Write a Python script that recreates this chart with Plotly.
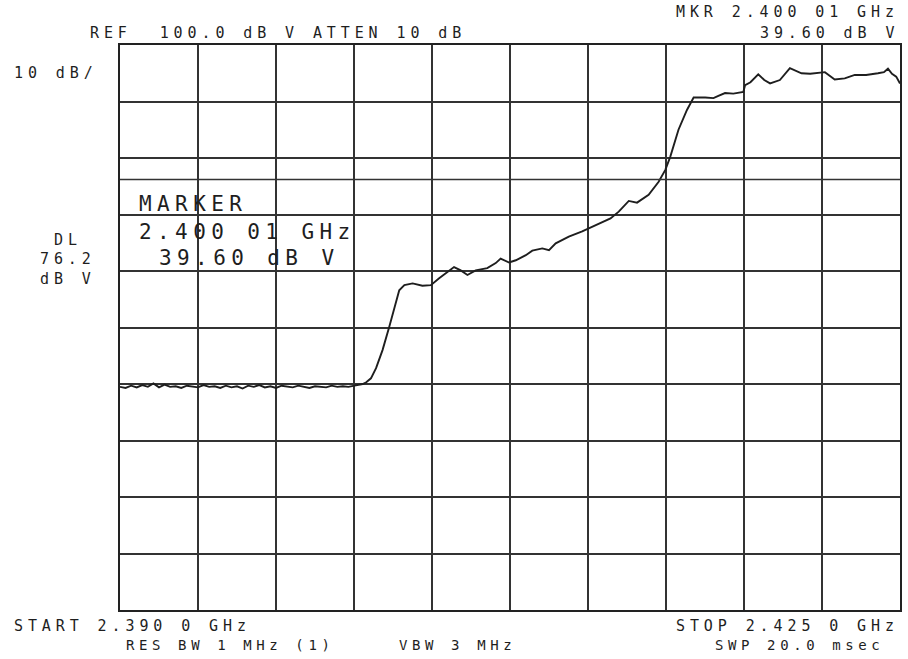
import plotly.graph_objects as go

# Frequency axis (MHz) and trace amplitude (dBuV)
freq_mhz = [
    2390.00, 2390.25, 2390.50, 2390.75, 2391.00, 2391.25, 2391.50, 2391.75,
    2392.00, 2392.25, 2392.50, 2392.75, 2393.00, 2393.25, 2393.50, 2393.75,
    2394.00, 2394.25, 2394.50, 2394.75, 2395.00, 2395.25, 2395.50, 2395.75,
    2396.00, 2396.25, 2396.50, 2396.75, 2397.00, 2397.25, 2397.50, 2397.75,
    2398.00, 2398.25, 2398.50, 2398.75, 2399.00, 2399.25, 2399.50, 2399.75,
    2400.00, 2400.25, 2400.52, 2400.89, 2401.05, 2401.26, 2401.49, 2401.78,
    2402.08, 2402.31, 2402.53, 2402.76, 2403.13, 2403.57, 2403.95, 2404.32,
    2404.62, 2404.99, 2405.29, 2405.59, 2405.96, 2406.48, 2406.86, 2407.08,
    2407.46, 2407.76, 2408.21, 2408.50, 2408.95, 2409.25, 2409.55, 2410.14,
    2410.74, 2411.18, 2411.63, 2412.01, 2412.38, 2412.83, 2413.20, 2413.72,
    2414.17, 2414.47, 2414.69, 2415.06, 2415.44, 2415.74, 2416.26, 2416.63,
    2416.85, 2417.15, 2417.52, 2417.97, 2418.05, 2418.29, 2418.64, 2418.91,
    2419.17, 2419.61, 2420.06, 2420.58, 2420.97, 2421.33, 2421.63, 2422.07,
    2422.52, 2422.97, 2423.48, 2424.01, 2424.28, 2424.46, 2424.64, 2424.83,
    2425.00,
]
level_dbuv = [
    39.5, 39.3, 39.7, 39.4, 39.8, 39.5, 40.1, 39.4,
    39.9, 39.5, 39.6, 39.3, 39.7, 39.5, 39.4, 39.8,
    39.5, 39.6, 39.3, 39.7, 39.4, 39.6, 39.2, 39.7,
    39.5, 39.8, 39.4, 39.6, 39.3, 39.7, 39.5, 39.4,
    39.7, 39.5, 39.3, 39.6, 39.5, 39.4, 39.7, 39.5,
    39.6, 39.5, 39.7, 40.0, 40.3, 41.0, 42.8, 46.0,
    50.1, 53.7, 56.6, 57.5, 57.8, 57.4, 57.5, 58.7,
    59.6, 60.7, 60.1, 59.3, 60.1, 60.5, 61.4, 62.2,
    61.5, 61.9, 62.8, 63.6, 64.0, 63.7, 64.9, 66.1,
    67.0, 67.8, 68.7, 69.3, 70.5, 72.4, 72.1, 73.5,
    75.8, 77.9, 80.2, 85.0, 88.5, 90.7, 90.7, 90.6,
    91.0, 91.5, 91.4, 91.7, 92.9, 93.4, 94.8, 93.8,
    93.2, 93.8, 95.9, 95.0, 94.9, 95.0, 95.2, 93.9,
    94.1, 94.7, 94.7, 95.0, 95.2, 95.8, 94.9, 94.4,
    93.2,
]

START_MHZ = 2390.0
STOP_MHZ = 2425.0
REF_LEVEL = 100.0
DL_LEVEL = 76.2

INK = "#1e1e1e"
FONT = "DejaVu Sans Mono"


def txt(s, spacing):
    return f'<span style="letter-spacing:{spacing}px">{s}</span>'


fig = go.Figure()
fig.add_trace(go.Scatter(
    x=freq_mhz, y=level_dbuv, mode="lines",
    line=dict(color=INK, width=1.9), hoverinfo="skip", showlegend=False,
))

fig.add_shape(type="line", xref="paper", x0=0, x1=1, yref="y",
              y0=DL_LEVEL, y1=DL_LEVEL, line=dict(color="#333", width=1.5))

annotations = [
    # (text, x_px, y_px, xanchor, size, spacing)
    ("REF  100.0 dB V ATTEN 10 dB", 88, 33, "left", 15, 4.9),
    ("MKR 2.400 01 GHz", 903, 12, "right", 15, 4.9),
    ("39.60 dB V", 903, 33, "right", 15, 4.9),
    ("10 dB/", 12, 73, "left", 15, 4.9),
    ("DL", 68, 240, "center", 15, 4.9),
    ("76.2", 68, 259, "center", 15, 4.9),
    ("dB V", 68, 279, "center", 15, 4.9),
    ("MARKER", 137, 204, "left", 21, 5.4),
    ("2.400 01 GHz", 137, 232, "left", 21, 5.4),
    ("39.60 dB V", 157, 258, "left", 21, 5.4),
    ("START 2.390 0 GHz", 12, 626, "left", 15, 4.9),
    ("STOP 2.425 0 GHz", 903, 626, "right", 15, 4.9),
    ("RES BW 1 MHz (1)", 124, 645, "left", 14, 4.6),
    ("VBW 3 MHz", 398, 645, "left", 14, 4.6),
    ("SWP 20.0 msec", 888, 645, "right", 14, 4.6),
]
W, H = 908, 659
for s, xp, yp, xa, size, sp in annotations:
    fig.add_annotation(
        text=txt(s, sp), xref="paper", yref="paper",
        x=(xp - 120) / (902 - 120), y=(610 - yp) / (610 - 45),
        xanchor=xa, yanchor="middle", showarrow=False,
        font=dict(family=FONT, size=size, color=INK),
    )

fig.update_layout(
    width=W, height=H, autosize=False,
    margin=dict(l=120, r=6, t=45, b=49),
    paper_bgcolor="white", plot_bgcolor="white",
    xaxis=dict(range=[START_MHZ, STOP_MHZ], dtick=(STOP_MHZ - START_MHZ) / 10,
               tick0=START_MHZ, showgrid=True, gridcolor="#333", gridwidth=1.5,
               showticklabels=False, ticks="", zeroline=False,
               showline=True, mirror=True, linecolor="#222", linewidth=2),
    yaxis=dict(range=[REF_LEVEL - 100, REF_LEVEL], dtick=10, tick0=0,
               showgrid=True, gridcolor="#333", gridwidth=1.5,
               showticklabels=False, ticks="", zeroline=False,
               showline=True, mirror=True, linecolor="#222", linewidth=2),
)

fig.write_html("out.html")
